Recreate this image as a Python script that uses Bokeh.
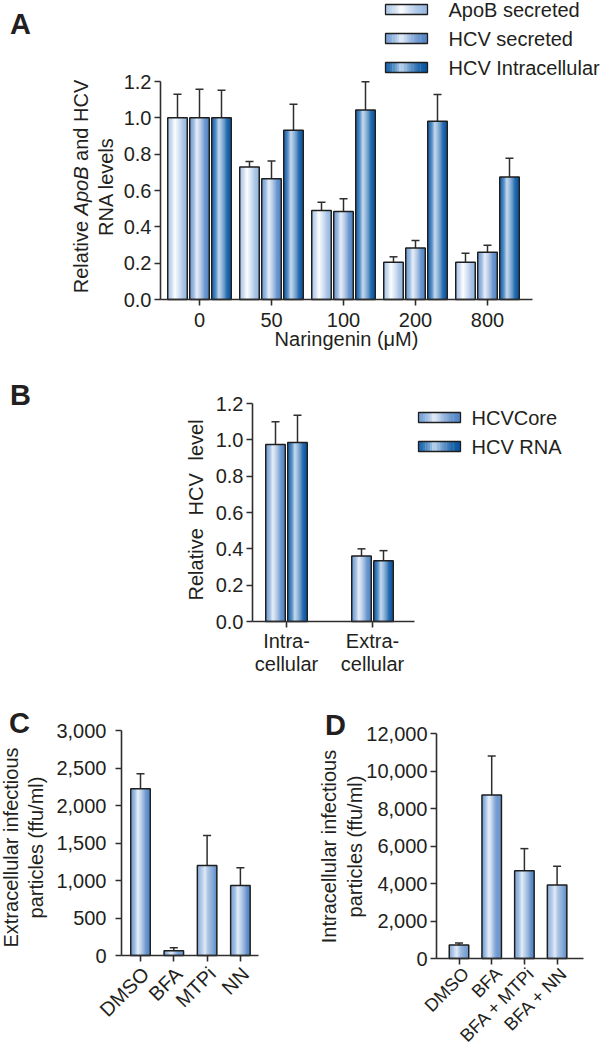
import numpy as np
from bokeh.plotting import figure
from bokeh.layouts import column, row
from bokeh.models import (Range1d, FixedTicker, PrintfTickFormatter, NumeralTickFormatter,
                          Label, LabelSet, ColumnDataSource)
from bokeh.core.properties import value
from bokeh.embed import file_html
from bokeh.resources import INLINE

# ---------------- data ----------------
doses = ["0", "50", "100", "200", "800"]
series_a = ["ApoB secreted", "HCV secreted", "HCV Intracellular"]
apob_vals = [1.00, 0.73, 0.49, 0.205, 0.205]
apob_err = [0.13, 0.03, 0.045, 0.03, 0.05]
hcvsec_vals = [1.00, 0.665, 0.485, 0.283, 0.26]
hcvsec_err = [0.157, 0.097, 0.07, 0.042, 0.038]
hcvint_vals = [1.00, 0.932, 1.043, 0.981, 0.674]
hcvint_err = [0.152, 0.143, 0.155, 0.147, 0.103]
ticks_ab = [0.0, 0.2, 0.4, 0.6, 0.8, 1.0, 1.2]

groups_b = ["Intra-\ncellular", "Extra-\ncellular"]
series_b = ["HCVCore", "HCV RNA"]
core_vals = [0.975, 0.36]
core_err = [0.125, 0.04]
rna_vals = [0.985, 0.335]
rna_err = [0.15, 0.055]

cats_c = ["DMSO", "BFA", "MTPi", "NN"]
extra_vals = [2225, 65, 1200, 935]
extra_err = [200, 40, 400, 235]
ticks_c = [0, 500, 1000, 1500, 2000, 2500, 3000]

cats_d = ["DMSO", "BFA", "BFA + MTPi", "BFA + NN"]
intra_vals = [720, 8720, 4680, 3920]
intra_err = [110, 2080, 1180, 1000]
ticks_d = [0, 2000, 4000, 6000, 8000, 10000, 12000]

# ---------------- style ----------------
FONT = "Liberation Sans"
FS = "20px"
TXT = "#231f20"
AXC = "#2e2e2e"
OUT = "#1e1e1e"
# (left edge, right edge, highlight)
LIGHT = ("#b0caea", "#98b8e1", "#ffffff")
MID = ("#76a0d6", "#5385c5", "#e6eef9")
DARK = ("#1a65ae", "#0855a1", "#bfd7ee")
HALFPI = np.pi / 2


class Geo:
    """Maps page pixels to data units for one canvas (frame == canvas)."""

    def __init__(self, left, right, top, bottom, ax_px, x_ppu, ay_py, y_ppu):
        self.left, self.right, self.top, self.bottom = left, right, top, bottom
        self.ax_px, self.x_ppu, self.ay_py, self.y_ppu = ax_px, x_ppu, ay_py, y_ppu
        self.xr = (self.x(left), self.x(right))
        self.yr = (self.y(bottom), self.y(top))

    def x(self, px):
        return (px - self.ax_px) / self.x_ppu

    def y(self, py):
        return (self.ay_py - py) / self.y_ppu


def style_axis(ax, standoff=3):
    ax.axis_line_color = AXC
    ax.axis_line_width = 1.6
    ax.major_tick_line_color = AXC
    ax.major_tick_line_width = 1.6
    ax.major_tick_out = 6
    ax.major_tick_in = 0
    ax.minor_tick_line_color = None
    ax.major_label_text_font = FONT
    ax.major_label_text_font_size = FS
    ax.major_label_text_color = TXT
    ax.axis_label_text_font = FONT
    ax.axis_label_text_font_size = FS
    ax.axis_label_text_color = TXT
    ax.axis_label_text_font_style = "normal"
    ax.major_label_standoff = standoff


def new_fig(g, yaxis_px, ytop, xaxis_end_px):
    p = figure(width=int(g.right - g.left), height=int(g.bottom - g.top),
               x_range=Range1d(*g.xr), y_range=Range1d(*g.yr),
               min_border_left=0, min_border_right=0, min_border_top=0, min_border_bottom=0,
               toolbar_location=None, tools="", output_backend="svg")
    p.min_border = 0
    p.outline_line_color = None
    p.xgrid.visible = False
    p.ygrid.visible = False
    p.background_fill_color = "white"
    p.border_fill_color = "white"
    xa, ya = p.xaxis[0], p.yaxis[0]
    style_axis(xa)
    style_axis(ya)
    ya.fixed_location = g.x(yaxis_px)
    ya.bounds = (0, ytop)
    xa.fixed_location = 0
    xa.bounds = (g.x(yaxis_px), g.x(xaxis_end_px))
    return p


def hex2rgb(h):
    return np.array([int(h[i:i + 2], 16) for i in (1, 3, 5)], float)


def grad_colors(left, right, hi, n=18, peak=0.38, expo=1.6):
    l, r, hh = hex2rgb(left), hex2rgb(right), hex2rgb(hi)
    out = []
    for k in range(n):
        t = (k + 0.5) / n
        if t < peak:
            f = (t / peak) ** expo
            c = l + (hh - l) * f
        else:
            f = ((1 - t) / (1 - peak)) ** expo
            c = r + (hh - r) * f
        out.append("#%02x%02x%02x" % tuple(int(round(v)) for v in c))
    return out


def gradient_bars(p, xs, tops, width, pal, bottom=0.0, n=18, lw=1.5):
    cs = grad_colors(*pal, n=n)
    xs = np.asarray(xs, float)
    tops = np.asarray(tops, float)
    bots = np.broadcast_to(np.asarray(bottom, float), xs.shape)
    sx, st, sb, sc = [], [], [], []
    for k in range(n):
        off = -width / 2 + (k + 0.5) * width / n
        sx.extend(xs + off)
        st.extend(tops)
        sb.extend(bots)
        sc.extend([cs[k]] * len(xs))
    src = ColumnDataSource(dict(x=sx, top=st, bottom=sb, color=sc))
    p.vbar(x="x", top="top", bottom="bottom", width=width / n * 1.15,
           fill_color="color", line_color=None, source=src)
    p.vbar(x=list(xs), top=list(tops), bottom=list(bots), width=width, fill_color=None,
           line_color=OUT, line_width=lw)


def err_bars(p, xs, vals, errs):
    tops = np.asarray(vals, float) + np.asarray(errs, float)
    p.segment(x0=list(xs), y0=list(vals), x1=list(xs), y1=list(tops), line_color=AXC, line_width=1.5)
    p.scatter(x=list(xs), y=list(tops), marker="dash", size=8, line_color=AXC, line_width=1.5)


def page_label(p, g, px, py, text, angle=0.0, align="center", size=FS, style="normal"):
    p.add_layout(Label(x=g.x(px), y=g.y(py), text=text, angle=angle, text_align=align,
                       text_baseline="middle", text_font=FONT, text_font_size=size,
                       text_font_style=style, text_color=TXT))


def draw_legend(p, g, names, pals, rows_py, sx0, sx1, tx, sh=10):
    for pal, py in zip(pals, rows_py):
        xc = g.x((sx0 + sx1) / 2)
        w = g.x(sx1) - g.x(sx0)
        gradient_bars(p, [xc], [g.y(py - sh / 2)], w, pal, bottom=[g.y(py + sh / 2)], lw=1.3)
    p.text(x=[g.x(tx)] * len(names), y=[g.y(py) for py in rows_py], text=names,
           text_font=value(FONT), text_font_size=value(FS), text_color=TXT,
           text_baseline=value("middle"), text_align=value("left"))


def rot_labels(p, cats, size=FS, xo=5, yo=-15):
    src = ColumnDataSource(dict(x=list(range(len(cats))), y=[0] * len(cats), t=cats))
    p.add_layout(LabelSet(x="x", y="y", text="t", source=src, angle=np.pi / 4,
                          text_align="right", text_baseline="middle", x_offset=xo, y_offset=yo,
                          text_font=value(FONT), text_font_size=value(size),
                          text_color=value(TXT)))


# ---------------- Panel A ----------------
gA = Geo(0, 610, 0, 355, 199, 72, 299, 218 / 1.2)
pA = new_fig(gA, 160, 1.2, 532)
xa = np.arange(len(doses), dtype=float)
offs_a = [-22 / 72, 0.0, 22 / 72]
bw_a = 19.5 / 72
for vals, errs, pal, off in zip([apob_vals, hcvsec_vals, hcvint_vals],
                                [apob_err, hcvsec_err, hcvint_err],
                                [LIGHT, MID, DARK], offs_a):
    err_bars(pA, xa + off, vals, errs)
    gradient_bars(pA, xa + off, vals, bw_a, pal)
pA.yaxis[0].ticker = FixedTicker(ticks=ticks_ab)
pA.yaxis[0].formatter = PrintfTickFormatter(format="%.1f")
pA.xaxis[0].ticker = FixedTicker(ticks=list(xa))
pA.xaxis[0].major_label_overrides = {i: d for i, d in enumerate(doses)}
pA.xaxis[0].major_label_standoff = 7
pA.xaxis[0].axis_label = "Naringenin (\u03bcM)"
pA.xaxis[0].axis_label_standoff = -2
draw_legend(pA, gA, series_a, [LIGHT, MID, DARK], [9, 38, 67], 385, 427, 448)
page_label(pA, gA, 20, 23, "A", size="29px", style="bold")
page_label(pA, gA, 80, 292.7, "Relative", angle=HALFPI, align="left")
page_label(pA, gA, 80, 214.9, "ApoB", angle=HALFPI, align="left", style="italic")
page_label(pA, gA, 80, 160.4, "and HCV", angle=HALFPI, align="left")
page_label(pA, gA, 105, 186, "RNA levels", angle=HALFPI)

# ---------------- Panel B ----------------
gB = Geo(0, 610, 355, 688, 286, 86, 621, 218 / 1.2)
pB = new_fig(gB, 252, 1.2, 414)
xb = np.arange(len(groups_b), dtype=float)
offs_b = [-11 / 86, 11 / 86]
bw_b = 19.5 / 86
for vals, errs, pal, off in zip([core_vals, rna_vals], [core_err, rna_err], [MID, DARK], offs_b):
    err_bars(pB, xb + off, vals, errs)
    gradient_bars(pB, xb + off, vals, bw_b, pal)
pB.yaxis[0].ticker = FixedTicker(ticks=ticks_ab)
pB.yaxis[0].formatter = PrintfTickFormatter(format="%.1f")
pB.xaxis[0].ticker = FixedTicker(ticks=list(xb))
pB.xaxis[0].major_label_overrides = {i: gname for i, gname in enumerate(groups_b)}
pB.xaxis[0].major_label_standoff = 2
pB.xaxis[0].major_label_text_line_height = 1.05
draw_legend(pB, gB, series_b, [MID, DARK], [417, 446], 418, 460, 471)
page_label(pB, gB, 20, 394, "B", size="29px", style="bold")
# "Relative  HCV  level" with the wide word gaps of the original
page_label(pB, gB, 195, 600, "Relative", angle=HALFPI, align="left")
page_label(pB, gB, 195, 515, "HCV", angle=HALFPI, align="left")
page_label(pB, gB, 195, 460, "level", angle=HALFPI, align="left")

# ---------------- Panel C ----------------
gC = Geo(0, 300, 688, 1048, 140, 33.3, 955, 225 / 3000)
pC = new_fig(gC, 121, 3000, 258)
xc = np.arange(len(cats_c), dtype=float)
err_bars(pC, xc, extra_vals, extra_err)
gradient_bars(pC, xc, extra_vals, 19.5 / 33.3, MID)
pC.yaxis[0].ticker = FixedTicker(ticks=ticks_c)
pC.yaxis[0].formatter = NumeralTickFormatter(format="0,0")
pC.yaxis[0].major_label_standoff = 9
pC.xaxis[0].ticker = FixedTicker(ticks=list(xc))
pC.xaxis[0].major_label_overrides = {i: "" for i in range(len(cats_c))}
pC.xaxis[0].major_label_text_color = None
rot_labels(pC, cats_c)
page_label(pC, gC, 19, 722, "C", size="29px", style="bold")
page_label(pC, gC, 10, 847, "Extracellular infectious", angle=HALFPI)
page_label(pC, gC, 35, 847, "particles (ffu/ml)", angle=HALFPI)

# ---------------- Panel D ----------------
gD = Geo(300, 610, 688, 1048, 458.5, 32.7, 958, 225 / 12000)
pD = new_fig(gD, 436, 12000, 583)
xd = np.arange(len(cats_d), dtype=float)
err_bars(pD, xd, intra_vals, intra_err)
gradient_bars(pD, xd, intra_vals, 19.5 / 32.7, MID)
pD.yaxis[0].ticker = FixedTicker(ticks=ticks_d)
pD.yaxis[0].formatter = NumeralTickFormatter(format="0,0")
pD.xaxis[0].ticker = FixedTicker(ticks=list(xd))
pD.xaxis[0].major_label_overrides = {i: "" for i in range(len(cats_d))}
pD.xaxis[0].major_label_text_color = None
rot_labels(pD, cats_d, size="18px", xo=7, yo=-12)
page_label(pD, gD, 335, 724, "D", size="29px", style="bold")
page_label(pD, gD, 328, 846, "Intracellular infectious", angle=HALFPI)
page_label(pD, gD, 354, 846, "particles (ffu/ml)", angle=HALFPI)

layout = column(pA, pB, row(pC, pD))
open("out.html", "w").write(file_html(layout, INLINE))
